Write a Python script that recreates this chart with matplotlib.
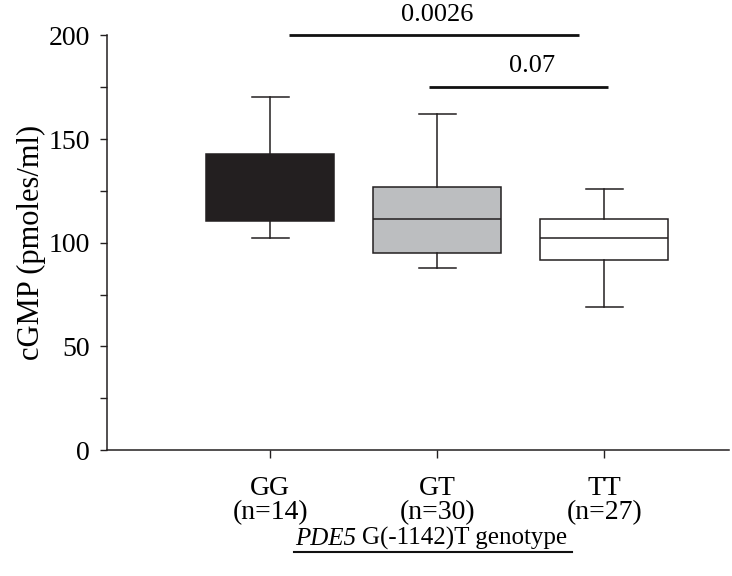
import matplotlib
matplotlib.use('agg')
import matplotlib.pyplot as plt
from matplotlib.lines import Line2D
from matplotlib.ticker import MultipleLocator

plt.rcParams['font.family'] = ['Liberation Serif', 'DejaVu Serif']

# box plot summary (cGMP, pmoles/ml)
genotypes = ['GG', 'GT', 'TT']
n_counts = [14, 30, 27]
whisker_low = [102.1, 87.6, 68.9]
q1 = [110.3, 95.2, 91.9]
median = [125.0, 111.6, 102.3]   # GG median hidden by the solid box
q3 = [142.7, 127.1, 111.6]
whisker_high = [170.5, 162.3, 125.9]
box_colors = ['#231f20', '#bcbec0', '#ffffff']

# p values between groups
p_labels = ['0.0026', '0.07']
p_pairs = [('GG', 'TT'), ('GT', 'TT')]
p_heights = [200, 175]

edge = '#231f20'
W, H = 732, 576

stats = []
for i, g in enumerate(genotypes):
    stats.append({'label': g, 'whislo': whisker_low[i], 'q1': q1[i], 'med': median[i],
                  'q3': q3[i], 'whishi': whisker_high[i], 'fliers': []})

fig = plt.figure(figsize=(W / 100, H / 100), dpi=100)
ax = fig.add_axes([0.1458, 0.21875, 0.996 - 0.1458, 0.9384 - 0.21875])

positions = list(range(1, len(genotypes) + 1))
lw = 1.1
parts = ax.bxp(stats, positions=positions, widths=0.766, patch_artist=True,
               showfliers=False, capwidths=0.22,
               boxprops=dict(edgecolor=edge, linewidth=lw),
               whiskerprops=dict(color=edge, linewidth=lw),
               capprops=dict(color=edge, linewidth=lw),
               medianprops=dict(color=edge, linewidth=lw))
for patch, c in zip(parts['boxes'], box_colors):
    patch.set_facecolor(c)

ax.set_ylim(0, 200)
ax.set_xlim(0.0204, 3.747)
ax.yaxis.set_major_locator(MultipleLocator(50))
ax.yaxis.set_minor_locator(MultipleLocator(25))
ax.set_xticks(positions)
ax.set_xticklabels([f'{g}\n(n={n})' for g, n in zip(genotypes, n_counts)])
for t in ax.get_xticklabels():
    t.set_linespacing(0.95)

ax.tick_params(axis='y', which='both', direction='out', length=5, width=1.0,
               labelsize=20, pad=7, color=edge)
ax.tick_params(axis='x', direction='out', length=6, width=1.0, labelsize=20,
               pad=13, color=edge)
ax.spines['top'].set_visible(False)
ax.spines['right'].set_visible(False)
for s in ['left', 'bottom']:
    ax.spines[s].set_linewidth(1.1)
    ax.spines[s].set_color(edge)

ax.set_ylabel('cGMP (pmoles/ml)', fontsize=22, labelpad=2)

# significance bars
pos = dict(zip(genotypes, positions))
bar_offsets = [(0.11, -0.15), (-0.05, 0.02)]
text_x = [2.0, 2.57]
for (a, b), h, lab, (da, db), tx in zip(p_pairs, p_heights, p_labels, bar_offsets, text_x):
    ax.plot([pos[a] + da, pos[b] + db], [h, h], color='#111111', linewidth=2.0,
            clip_on=False, solid_capstyle='butt')
    ax.text(tx, h + 7.2, lab, ha='center', va='baseline', fontsize=19, clip_on=False)

# underlined x axis title, gene name in italics
fs = 18
yb = (H - 545) / H
t1 = fig.text(0, yb, 'PDE5', fontstyle='italic', fontsize=fs, va='baseline')
t2 = fig.text(0, yb, 'G(-1142)T genotype', fontsize=fs, va='baseline')
r = fig.canvas.get_renderer()
w1 = t1.get_window_extent(r).width
w2 = t2.get_window_extent(r).width
gap = 6
x0 = 431 - (w1 + gap + w2) / 2
t1.set_x(x0 / W)
t2.set_x((x0 + w1 + gap) / W)
uy = (H - 552) / H
fig.add_artist(Line2D([(x0 - 1) / W, (x0 + w1 + gap + w2 + 5) / W], [uy, uy],
                      transform=fig.transFigure, color='#111111', linewidth=1.5))

fig.savefig('out.png', dpi=100)
